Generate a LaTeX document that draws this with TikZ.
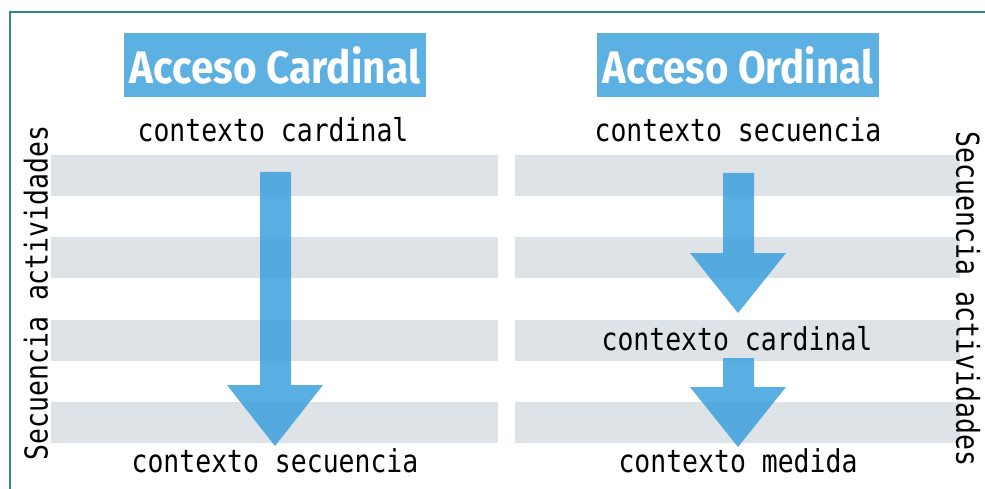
\documentclass[tikz,border=0pt]{standalone}
\usepackage{fontspec}
\setmainfont{DejaVu Sans}
\newfontfamily\monof[FakeStretch=0.84]{DejaVu Sans Mono}
\newfontfamily\titlef{Fira Sans}[UprightFont=* Bold]
\definecolor{frameteal}{HTML}{2B8C82}
\definecolor{stripe}{HTML}{DDE3E7}
\definecolor{arrowblue}{HTML}{3DA1DD}
\definecolor{titleblue}{HTML}{5DB0E2}
\begin{document}
\begin{tikzpicture}[x=1pt,y=-1pt,
  stripebox/.style={fill=stripe,draw=none},
  bigarrow/.style={fill=arrowblue,fill opacity=0.85,draw=none},
  lbl/.style={font=\monof\fontsize{31.5}{33}\selectfont,anchor=base,inner sep=0pt},
  titlebox/.style={fill=titleblue,text=white,minimum height=64pt,inner sep=0pt}]
\useasboundingbox (0,0) rectangle (985,489);
% frame
\draw[frameteal,line width=2.5pt] (10,495) -- (10,12) -- (990,12);
% stripes
\foreach \y in {155,237,320,402}{
  \fill[stripebox] (51,\y) rectangle (498,\y+41);
  \fill[stripebox] (515,\y) rectangle (960,\y+41);
}
% titles
\node[titlebox,minimum width=302pt] (t1) at (275,65) {\resizebox{290pt}{37pt}{\titlef Acceso Cardinal}};
\node[titlebox,minimum width=282pt] (t2) at (738,65) {\resizebox{270pt}{37pt}{\titlef Acceso Ordinal}};
% arrows
\fill[bigarrow] (260,172) -- (291,172) -- (291,385) -- (323,385) -- (275,446) -- (227,385) -- (260,385) -- cycle;
\fill[bigarrow] (723,173) -- (754,173) -- (754,253) -- (786,253) -- (738,313) -- (690,253) -- (723,253) -- cycle;
\fill[bigarrow] (723,358) -- (754,358) -- (754,387) -- (786,387) -- (738,447) -- (690,387) -- (723,387) -- cycle;
% labels
\node[lbl] (l1) at (273,142) {contexto cardinal};
\node[lbl] (l2) at (275,472) {contexto secuencia};
\node[lbl] (r1) at (738,142) {contexto secuencia};
\node[lbl] (r2) at (737,350) {contexto cardinal};
\node[lbl] (r3) at (738,472) {contexto medida};
% side labels
\node[lbl,anchor=center,rotate=90] (s1) at (36,293) {Secuencia actividades};
\node[lbl,anchor=center,rotate=-90] (s2) at (968,299) {Secuencia actividades};
\end{tikzpicture}
\end{document}
